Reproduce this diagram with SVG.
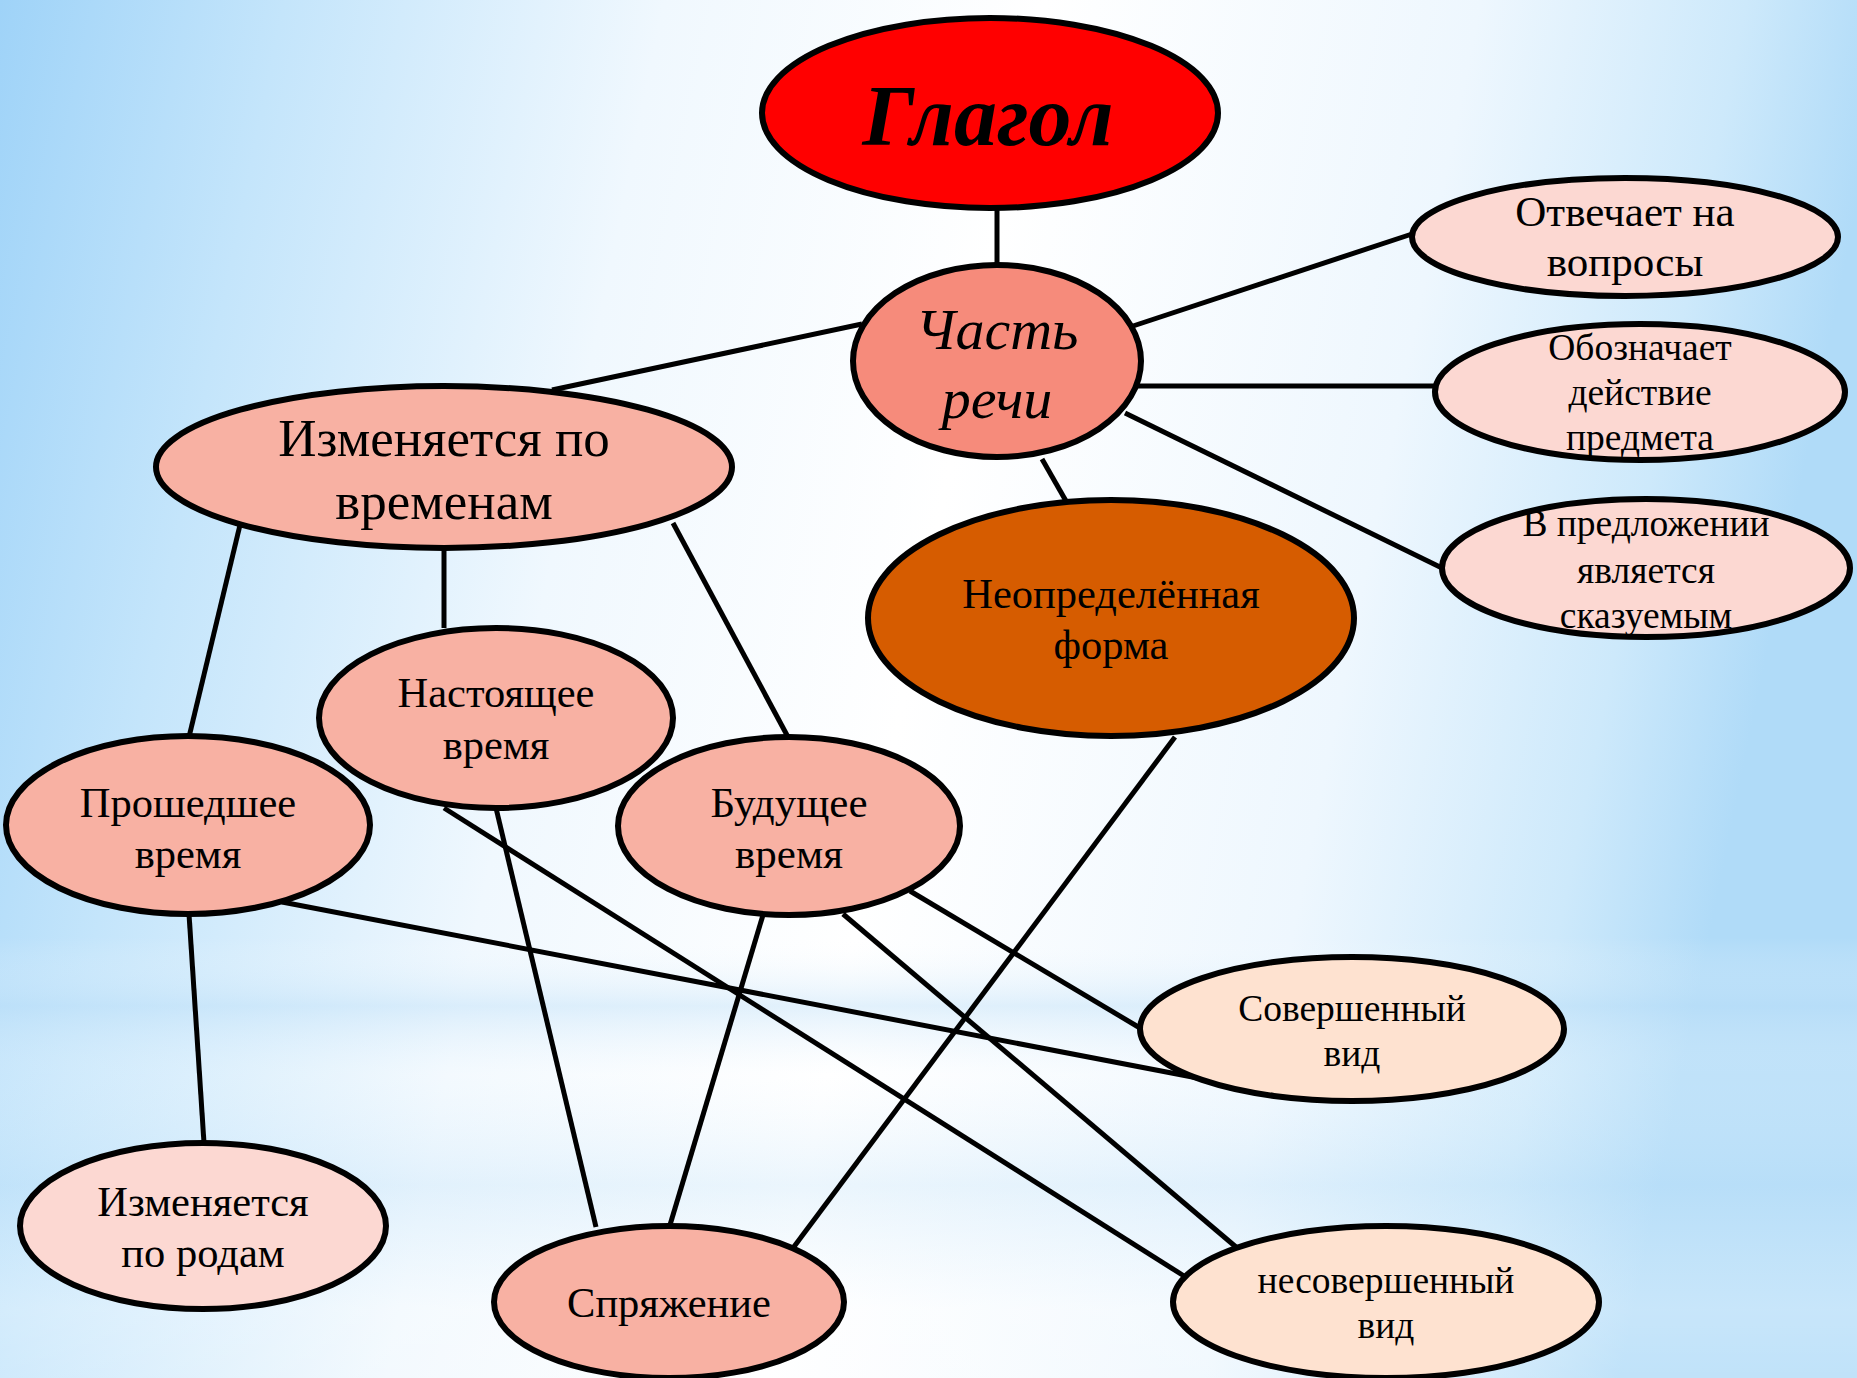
<svg xmlns="http://www.w3.org/2000/svg" width="1857" height="1378" viewBox="0 0 1857 1378">
<defs>
<linearGradient id="bgH" x1="0" y1="0" x2="1" y2="0.15">
<stop offset="0" stop-color="#9fd3f8"/>
<stop offset="0.15" stop-color="#c4e5fb"/>
<stop offset="0.35" stop-color="#f0f8fe"/>
<stop offset="0.55" stop-color="#ffffff"/>
<stop offset="0.78" stop-color="#eef7fe"/>
<stop offset="0.92" stop-color="#cde9fb"/>
<stop offset="1" stop-color="#b0dbf8"/>
</linearGradient>
<linearGradient id="bgV" x1="0" y1="0" x2="0" y2="1">
<stop offset="0" stop-color="#ffffff" stop-opacity="0"/>
<stop offset="0.68" stop-color="#ffffff" stop-opacity="0"/>
<stop offset="0.73" stop-color="#bfe0f8" stop-opacity="0.45"/>
<stop offset="0.78" stop-color="#ffffff" stop-opacity="0.2"/>
<stop offset="0.86" stop-color="#c6e4f9" stop-opacity="0.35"/>
<stop offset="0.95" stop-color="#ffffff" stop-opacity="0.3"/>
<stop offset="1" stop-color="#ffffff" stop-opacity="0.2"/>
</linearGradient>
<style>
.n{stroke:#000;stroke-width:6}
.c line{stroke:#000;stroke-width:5;stroke-linecap:butt}
text{font-family:"Liberation Serif","Times New Roman",serif;fill:#000;text-anchor:middle}
.t43{font-size:43px}
.t42{font-size:42.5px}
.t37{font-size:37.5px}
.t53{font-size:53px}
</style>
</defs>
<rect x="0" y="0" width="1857" height="1378" fill="url(#bgH)"/>
<rect x="0" y="0" width="1857" height="1378" fill="url(#bgV)"/>

<g id="connectors" class="c">
<line x1="997" y1="208" x2="997" y2="268"/>
<line x1="862" y1="324" x2="552" y2="390"/>
<line x1="1133" y1="326" x2="1412" y2="234"/>
<line x1="1138" y1="386" x2="1435" y2="386"/>
<line x1="1125" y1="413" x2="1442" y2="568"/>
<line x1="1042" y1="459" x2="1066" y2="501"/>
<line x1="240" y1="525" x2="189" y2="737"/>
<line x1="444" y1="547" x2="444" y2="628"/>
<line x1="673" y1="523" x2="788" y2="737"/>
<line x1="189" y1="914" x2="204" y2="1143"/>
<line x1="282" y1="902" x2="1208" y2="1080"/>
<line x1="496" y1="808" x2="596" y2="1227"/>
<line x1="444" y1="808" x2="1184" y2="1276"/>
<line x1="763" y1="915" x2="670" y2="1225"/>
<line x1="910" y1="891" x2="1140" y2="1028"/>
<line x1="843" y1="914" x2="1236" y2="1247"/>
<line x1="1175" y1="737" x2="793" y2="1248"/>
</g>

<g id="glagol">
<ellipse class="n" cx="990" cy="113" rx="228" ry="95" fill="#ff0000" stroke-width="7"/>
<text x="988" y="145" style="font-size:86px;font-weight:bold;font-style:italic">Глагол</text>
</g>

<g id="chast-rechi">
<ellipse class="n" cx="997" cy="361" rx="144" ry="96" fill="#f68b7b"/>
<text x="997" y="349" style="font-size:58px;font-style:italic">Часть</text>
<text x="997" y="418" style="font-size:58px;font-style:italic">речи</text>
</g>

<g id="otvechaet">
<ellipse class="n" cx="1625" cy="237" rx="213" ry="59" fill="#fcd8d2"/>
<text class="t43" x="1625" y="226">Отвечает на</text>
<text class="t43" x="1625" y="276">вопросы</text>
</g>

<g id="oboznachaet">
<ellipse class="n" cx="1640" cy="392" rx="205" ry="68" fill="#fcd8d2"/>
<text class="t37" x="1640" y="360">Обозначает</text>
<text class="t37" x="1640" y="405">действие</text>
<text class="t37" x="1640" y="450">предмета</text>
</g>

<g id="v-predlozhenii">
<ellipse class="n" cx="1646" cy="568" rx="204" ry="69" fill="#fcd8d2"/>
<text class="t37" x="1646" y="536">В предложении</text>
<text class="t37" x="1646" y="583">является</text>
<text class="t37" x="1646" y="628">сказуемым</text>
</g>

<g id="izm-vremenam">
<ellipse class="n" cx="444" cy="467" rx="288" ry="81" fill="#f8b1a3"/>
<text class="t53" x="444" y="456">Изменяется по</text>
<text class="t53" x="444" y="519">временам</text>
</g>

<g id="neopredelennaya">
<ellipse class="n" cx="1111" cy="618" rx="243" ry="118" fill="#d65c00"/>
<text class="t42" x="1111" y="608">Неопределённая</text>
<text class="t42" x="1111" y="659">форма</text>
</g>

<g id="nastoyashchee">
<ellipse class="n" cx="496" cy="718" rx="177" ry="90" fill="#f8b1a3"/>
<text class="t42" x="496" y="707">Настоящее</text>
<text class="t42" x="496" y="759">время</text>
</g>

<g id="proshedshee">
<ellipse class="n" cx="188" cy="825" rx="182" ry="89" fill="#f8b1a3"/>
<text class="t42" x="188" y="817">Прошедшее</text>
<text class="t42" x="188" y="868">время</text>
</g>

<g id="budushchee">
<ellipse class="n" cx="789" cy="826" rx="171" ry="89" fill="#f8b1a3"/>
<text class="t43" x="789" y="817">Будущее</text>
<text class="t43" x="789" y="868">время</text>
</g>

<g id="sovershennyy">
<ellipse class="n" cx="1352" cy="1029" rx="212" ry="72" fill="#fee2d0"/>
<text class="t37" x="1352" y="1021">Совершенный</text>
<text class="t37" x="1352" y="1066">вид</text>
</g>

<g id="izm-rodam">
<ellipse class="n" cx="203" cy="1226" rx="183" ry="83" fill="#fcd8d2"/>
<text class="t42" x="203" y="1216">Изменяется</text>
<text class="t42" x="203" y="1267">по родам</text>
</g>

<g id="spryazhenie">
<ellipse class="n" cx="669" cy="1302" rx="175" ry="76" fill="#f8b1a3"/>
<text class="t42" x="669" y="1317">Спряжение</text>
</g>

<g id="nesovershennyy">
<ellipse class="n" cx="1386" cy="1302" rx="213" ry="76" fill="#fee2d0"/>
<text class="t37" x="1386" y="1293">несовершенный</text>
<text class="t37" x="1386" y="1338">вид</text>
</g>
</svg>
